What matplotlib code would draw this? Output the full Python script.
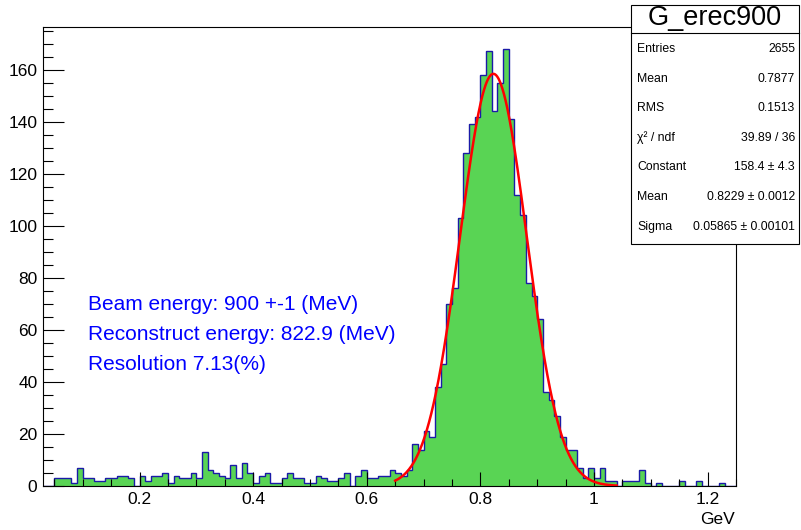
import numpy as np
import matplotlib
matplotlib.use("Agg")
import matplotlib.pyplot as plt
from matplotlib.patches import Rectangle
from matplotlib.ticker import MultipleLocator

plt.rcParams['font.family'] = ['Liberation Sans', 'DejaVu Sans']

# histogram G_erec900: 122 bins of 0.01 GeV between 0.03 and 1.25
x_low, x_high, bin_w = 0.03, 1.25, 0.01
counts = [
    0, 0, 3, 3, 3, 1, 7, 3, 3, 2,
    2, 3, 3, 4, 4, 3, 0, 4, 2, 4,
    4, 5, 1, 4, 3, 3, 5, 3, 13, 6,
    5, 4, 3, 8, 3, 9, 5, 1, 4, 5,
    1, 1, 3, 5, 3, 3, 1, 1, 4, 3,
    2, 2, 3, 5, 0, 4, 6, 3, 3, 4,
    4, 6, 5, 4, 6, 16, 14, 21, 19, 38,
    47, 70, 76, 103, 128, 139, 142, 158, 167, 144,
    155, 168, 141, 112, 104, 78, 73, 64, 36, 33,
    27, 19, 14, 14, 7, 3, 7, 3, 7, 2,
    2, 0, 2, 2, 2, 6, 1, 0, 1, 0,
    0, 0, 2, 0, 0, 2, 0, 0, 0, 1,
    0, 0,
]

# gaussian fit result
fit_const, fit_mean, fit_sigma = 158.4, 0.8229, 0.05865
fit_range = (0.65, 1.04)

stat_names = ["Entries", "Mean", "RMS", "\u03c7\u00b2 / ndf", "Constant", "Mean", "Sigma"]
stat_values = ["2655", "0.7877", "0.1513", "39.89 / 36", "158.4 \u00b1 4.3",
               "0.8229 \u00b1 0.0012", "0.05865 \u00b1 0.00101"]

notes = ["Beam energy: 900 +-1 (MeV)",
         "Reconstruct energy: 822.9 (MeV)",
         "Resolution 7.13(%)"]

W, H = 801, 530


def fx(px):
    return px / W


def fy(py):
    return 1 - py / H


fig = plt.figure(figsize=(W / 100, H / 100), dpi=100)
frame_l, frame_r, frame_t, frame_b = 43, 736, 27, 486
ax = fig.add_axes([fx(frame_l), fy(frame_b), (frame_r - frame_l) / W, (frame_b - frame_t) / H])

edges = x_low + bin_w * np.arange(len(counts) + 1)
ax.stairs(counts, edges, fill=True, facecolor="#59d454", edgecolor="none", zorder=1)
ax.stairs(counts, edges, fill=False, color="#1a1aa8", linewidth=1.0, zorder=1.5)

xf = np.linspace(fit_range[0], fit_range[1], 400)
yf = fit_const * np.exp(-0.5 * ((xf - fit_mean) / fit_sigma) ** 2)
ax.plot(xf, yf, color="red", linewidth=1.8, zorder=3)

ax.set_xlim(x_low, x_high)
ax.set_ylim(0, max(counts) * 1.05)

ax.xaxis.set_major_locator(MultipleLocator(0.2))
ax.xaxis.set_minor_locator(MultipleLocator(0.05))
ax.yaxis.set_major_locator(MultipleLocator(20))
ax.yaxis.set_minor_locator(MultipleLocator(5))
ax.xaxis.set_major_formatter(plt.FuncFormatter(lambda v, p: f"{v:g}"))

ax.tick_params(axis="both", which="both", direction="in", top=False, right=False,
               width=0.8, colors="black", labelsize=12.5, pad=4)
ax.tick_params(axis="x", which="major", length=9.9)
ax.tick_params(axis="x", which="minor", length=5)
ax.tick_params(axis="y", which="major", length=15)
ax.tick_params(axis="y", which="minor", length=7.5)
for s in ax.spines.values():
    s.set_linewidth(0.8)

fig.text(fx(735), fy(519), "GeV", ha="right", va="center", fontsize=12.5)

# annotation in blue
for i, line in enumerate(notes):
    fig.text(fx(88), fy(305 + 30 * i), line, color="blue", fontsize=15,
             ha="left", va="center")

# stats box
box_l, box_r, box_t, box_b, title_b = 631, 799, 5, 244, 33
fig.add_artist(Rectangle((fx(box_l), fy(box_b)), (box_r - box_l) / W, (box_b - box_t) / H,
                         transform=fig.transFigure, facecolor="white",
                         edgecolor="black", linewidth=0.8, zorder=5))
fig.add_artist(plt.Line2D([fx(box_l), fx(box_r)], [fy(title_b), fy(title_b)],
                          transform=fig.transFigure, color="black", linewidth=0.8, zorder=6))
fig.text(fx((box_l + box_r) / 2), fy(18), "G_erec900", ha="center", va="center",
         fontsize=19.5, zorder=7)
for i, (name, val) in enumerate(zip(stat_names, stat_values)):
    yy = fy(49 + 29.6 * i)
    fig.text(fx(637), yy, name, ha="left", va="center", fontsize=8.8, zorder=7)
    fig.text(fx(795), yy, val, ha="right", va="center", fontsize=8.8, zorder=7)

fig.savefig("out.png", dpi=100, facecolor="white")
